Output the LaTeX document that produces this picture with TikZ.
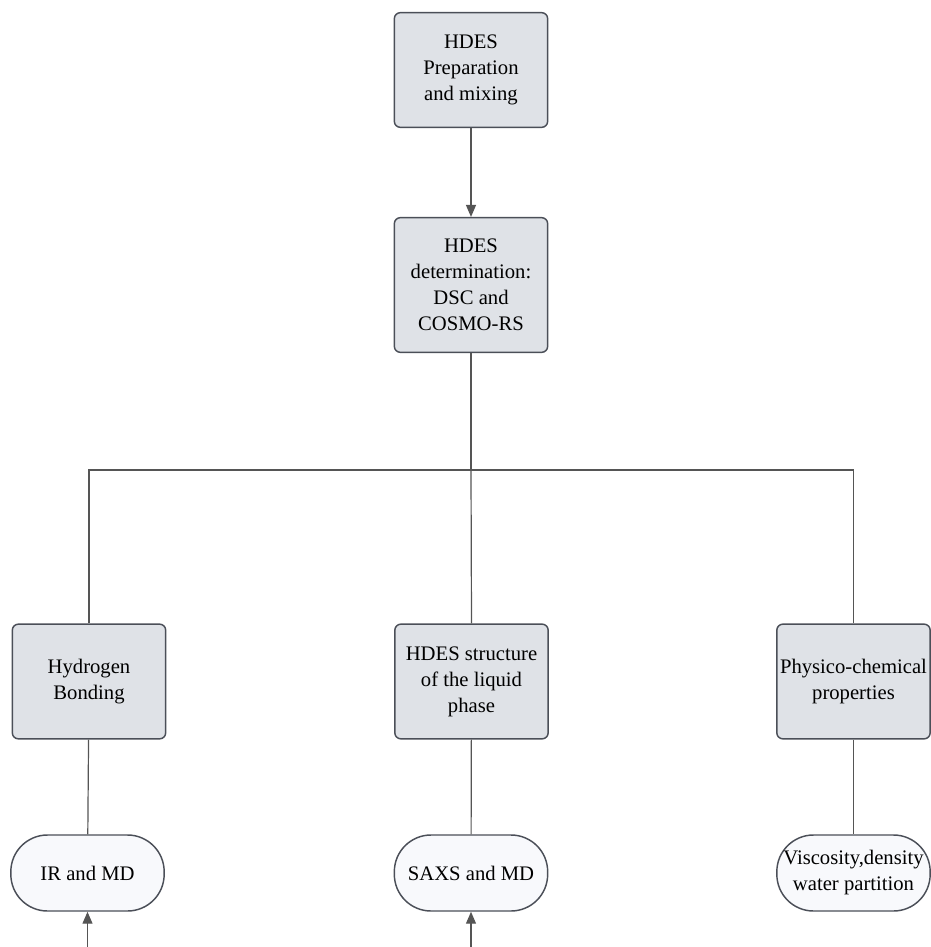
\documentclass[tikz,border=0pt]{standalone}
\usepackage{fontspec}
\setmainfont{Liberation Serif}
\usetikzlibrary{arrows.meta}

\begin{document}
\begin{tikzpicture}[x=0.75pt,y=-0.75pt]
\definecolor{boxfill}{HTML}{DFE2E7}
\definecolor{ovalfill}{HTML}{F8F9FC}
\definecolor{edge}{HTML}{4B4F58}
\definecolor{wire}{HTML}{555555}
\tikzset{
  stepbox/.style={draw=edge,fill=boxfill,line width=1.1pt,rounded corners=4.5pt,
    minimum width=115pt,minimum height=86pt,inner sep=1pt,align=center,
    font=\fontsize{15.5pt}{19.5pt}\selectfont},
  result/.style={draw=edge,fill=ovalfill,line width=1.1pt,rounded corners=27.5pt,
    minimum width=115pt,minimum height=57pt,inner sep=1pt,align=center,
    font=\fontsize{15.5pt}{19.5pt}\selectfont},
  wire/.style={draw=wire,line width=0.9pt},
  flow/.style={wire,-{Triangle[length=9pt,width=7.5pt]}}
}
\useasboundingbox (0,0) rectangle (931,947);
% top of the chain
\node[stepbox] (prep) at (471,70) {HDES\\Preparation\\and mixing};
\node[stepbox,minimum height=101pt] (det) at (471,285) {HDES\\determination:\\DSC and\\COSMO-RS};
\coordinate (split) at (471,470);
% three branches
\node[stepbox] (hbond) at (89,681.5) {Hydrogen\\Bonding};
\node[stepbox] (liquid) at (471.5,681.5) {HDES structure\\of the liquid\\phase};
\node[stepbox] (phys) at (853.5,681.5) {Physico-chemical\\properties};
\node[result] (irmd) at (87.5,873) {IR and MD};
\node[result] (saxs) at (471,873) {SAXS and MD};
\node[result] (visc) at (853.5,873) {Viscosity,density\\water partition};
\coordinate (irin) at (87.5,947);
\coordinate (saxsin) at (471,947);
% connectors
\draw[flow] (prep) -- (det);
\draw[wire] (det) -- (split);
\draw[wire] (hbond.north) |- (split) -| (phys.north);
\draw[wire] (split) -- (liquid.north);
\draw[wire] (hbond) -- (irmd);
\draw[wire] (liquid) -- (saxs);
\draw[wire] (phys) -- (visc);
\draw[flow] (irin) -- (irmd.south);
\draw[flow] (saxsin) -- (saxs.south);
\end{tikzpicture}
\end{document}
